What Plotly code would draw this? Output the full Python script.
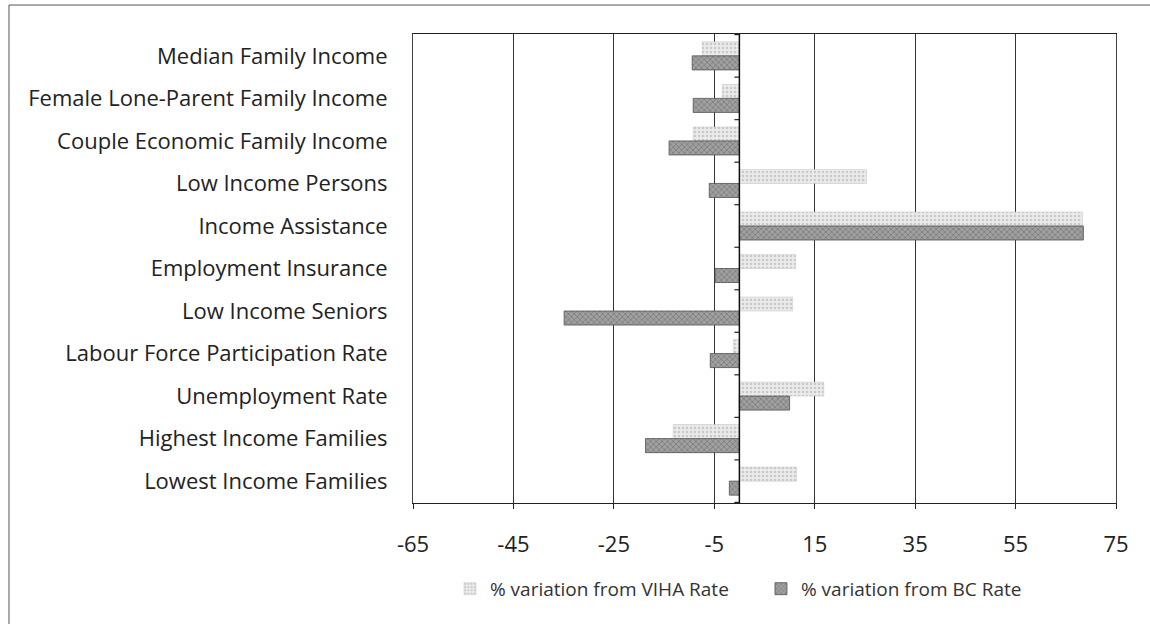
import plotly.graph_objects as go

categories = [
    "Median Family Income",
    "Female Lone-Parent Family Income",
    "Couple Economic Family Income",
    "Low Income Persons",
    "Income Assistance",
    "Employment Insurance",
    "Low Income Seniors",
    "Labour Force Participation Rate",
    "Unemployment Rate",
    "Highest Income Families",
    "Lowest Income Families",
]
viha_values = [-7.4, -3.4, -9.2, 25.3, 68.3, 11.2, 10.6, -1.2, 16.8, -13.2, 11.4]
bc_values = [-9.4, -9.2, -14.0, -6.0, 68.5, -4.8, -34.9, -5.8, 10.0, -18.7, -2.0]
x_ticks = [-65, -45, -25, -5, 15, 35, 55, 75]
series_names = ["% variation from VIHA Rate", "% variation from BC Rate"]

FONT = "Open Sans"

fig = go.Figure()
fig.add_trace(go.Bar(
    y=categories, x=viha_values, orientation="h", name=series_names[0],
    marker=dict(
        color="#e4e4e4",
        line=dict(color="#c4c4c4", width=0.5),
        pattern=dict(shape=".", fgcolor="#a8a8a8", bgcolor="#ebebeb", size=4, solidity=0.35),
    ),
))
fig.add_trace(go.Bar(
    y=categories, x=bc_values, orientation="h", name=series_names[1],
    marker=dict(
        color="#8c8c8c",
        line=dict(color="#505050", width=0.8),
        pattern=dict(shape="x", fgcolor="#555555", bgcolor="#a0a0a0", size=4, solidity=0.35),
    ),
))

shapes = []
# category boundary tick marks on the zero axis
for i in range(len(categories) + 1):
    shapes.append(dict(type="line", xref="x", yref="y", x0=-1.0, x1=0,
                       y0=i - 0.5, y1=i - 0.5, line=dict(color="#222", width=1.2)))
# outer chart frame
shapes.append(dict(type="rect", xref="paper", yref="paper",
                   x0=-0.5747, x1=1.08, y0=-0.35, y1=1.0618,
                   line=dict(color="#555", width=1), fillcolor="rgba(0,0,0,0)", layer="below"))
# zero line
shapes.append(dict(type="line", xref="x", yref="paper", x0=0, x1=0, y0=0, y1=1,
                   line=dict(color="#111", width=1.5)))

fig.update_layout(
    width=1150, height=624,
    margin=dict(l=413, r=34, t=34, b=121),
    paper_bgcolor="white", plot_bgcolor="white",
    barmode="group", bargap=0.34, bargroupgap=0,
    font=dict(family=FONT, color="#222"),
    showlegend=True,
    legend=dict(orientation="h", x=0.0526, xanchor="left", y=-0.183, yanchor="middle",
                font=dict(size=19, family=FONT, color="#333"), itemwidth=30,
                entrywidth=266, entrywidthmode="pixels",
                traceorder="normal"),
    shapes=shapes,
)
fig.update_xaxes(
    range=[-65, 75], tickvals=x_ticks, ticktext=[str(v) for v in x_ticks],
    showgrid=True, gridcolor="#333", gridwidth=1,
    zeroline=False,
    showline=True, linecolor="#222", linewidth=1.2, mirror=True,
    ticks="outside", ticklen=5, tickcolor="#222",
    tickfont=dict(size=22, family=FONT, color="#222"),
    ticklabelstandoff=16,
)
fig.update_yaxes(
    categoryorder="array", categoryarray=categories, autorange="reversed",
    showgrid=False, zeroline=False,
    showline=True, linecolor="#444", linewidth=1, mirror=True,
    ticks="", tickfont=dict(size=22, family=FONT, color="#222"),
    ticklabelstandoff=20,
)

fig.write_html("out.html", post_script="document.body.style.margin='0';",
               config={"displayModeBar": False})
